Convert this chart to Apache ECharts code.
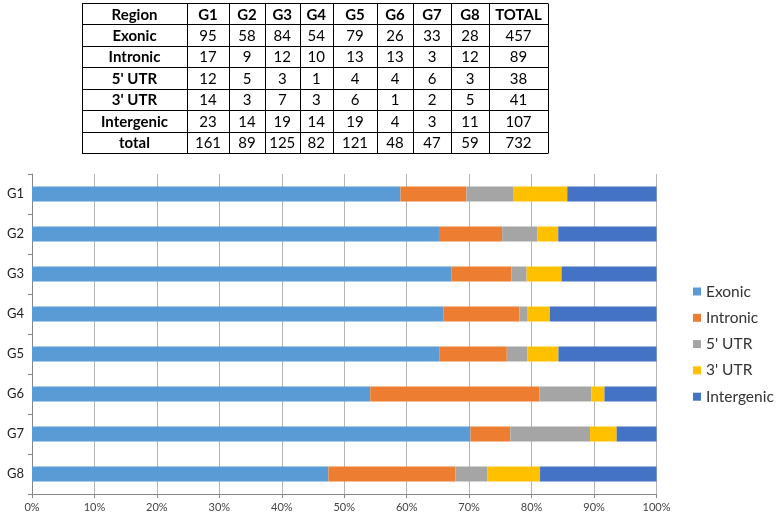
<!DOCTYPE html>
<html>
<head>
<meta charset="utf-8">
<script src="https://cdn.jsdelivr.net/npm/echarts@6/dist/echarts.min.js"></script>
<style>html,body{margin:0;padding:0;background:#fff}#c{width:777px;height:517px}</style>
</head>
<body>
<div id="c"></div>
<script>
const groups = ['G1','G2','G3','G4','G5','G6','G7','G8'];
const regionNames = ['Exonic','Intronic',"5' UTR","3' UTR",'Intergenic'];
const exonic = [95,58,84,54,79,26,33,28];
const intronic = [17,9,12,10,13,13,3,12];
const utr5 = [12,5,3,1,4,4,6,3];
const utr3 = [14,3,7,3,6,1,2,5];
const intergenic = [23,14,19,14,19,4,3,11];
const xTickValues = [0,10,20,30,40,50,60,70,80,90,100];
const colors = ['#5B9BD5','#ED7D31','#A5A5A5','#FFC000','#4472C4'];

const seriesCounts = [exonic, intronic, utr5, utr3, intergenic];
const groupTotals = groups.map((g,i)=>seriesCounts.reduce((s,a)=>s+a[i],0));

// ---- table (layout) ----
const colEdges = [82,187,229,265,299.5,333,377,413,451,489,548];
const tableTop = 3, rowH = 21.45;
const FONT = 'Lato, "Open Sans", sans-serif';
const tableRows = [];
tableRows.push({label:'Region', cells: groups.concat(['TOTAL']), header:true});
regionNames.forEach((n,r)=>{
  const arr = seriesCounts[r];
  tableRows.push({label:n, cells: arr.map(String).concat([String(arr.reduce((a,b)=>a+b,0))])});
});
tableRows.push({label:'total', cells: groupTotals.map(String).concat([String(groupTotals.reduce((a,b)=>a+b,0))])});

const graphics = [];
const tableBottom = tableTop + rowH*tableRows.length;
for (let r=0;r<=tableRows.length;r++){
  const y = Math.round(tableTop + rowH*r)+0.5;
  graphics.push({type:'line', shape:{x1:colEdges[0],y1:y,x2:colEdges[colEdges.length-1],y2:y}, style:{stroke:'#000',lineWidth:1}});
}
colEdges.forEach(x=>{
  const xx = Math.round(x)+0.5;
  graphics.push({type:'line', shape:{x1:xx,y1:Math.round(tableTop)+0.5,x2:xx,y2:Math.round(tableBottom)+0.5}, style:{stroke:'#000',lineWidth:1}});
});
tableRows.forEach((row,r)=>{
  const cy = tableTop + rowH*r + rowH/2 + 1;
  const all = [row.label].concat(row.cells);
  all.forEach((t,c)=>{
    const cx = (colEdges[c]+colEdges[c+1])/2;
    graphics.push({type:'text', x:cx, y:cy, style:{text:t, fill:'#000', font:(row.header||c===0?'bold ':'')+'15px '+FONT, align:'center', verticalAlign:'middle'}});
  });
});

const series = regionNames.map((n,k)=>({
  name:n, type:'bar', stack:'total', barWidth:15,
  itemStyle:{color:colors[k]},
  data: seriesCounts[k].map((v,i)=>v/groupTotals[i]*100)
}));

const chart = echarts.init(document.getElementById('c'), null, {renderer:'canvas'});
chart.setOption({
  animation:false,
  color: colors,
  grid:{left:32, top:174, width:624.5, height:320, containLabel:false},
  legend:{
    orient:'vertical', left:693, top:283.5, padding:0,
    itemWidth:8, itemHeight:8, itemGap:10.3,
    icon:'rect',
    textStyle:{fontFamily:FONT, fontSize:15.5, color:'#333', lineHeight:16},
    data: regionNames
  },
  xAxis:{
    type:'value', min:0, max:100, interval:10,
    axisLine:{show:true, lineStyle:{color:'#868686'}},
    axisTick:{show:true, length:4, lineStyle:{color:'#868686'}},
    splitLine:{show:true, lineStyle:{color:'#b5b5b5', width:1}},
    axisLabel:{formatter:v=> xTickValues.includes(v)? v+'%':'', fontFamily:FONT, fontSize:11, color:'#444', margin:8}
  },
  yAxis:{
    type:'category', data:groups, inverse:true,
    axisLine:{show:true, lineStyle:{color:'#868686'}},
    axisTick:{show:true, length:4, lineStyle:{color:'#868686'}},
    axisLabel:{fontFamily:FONT, fontSize:13, color:'#222', margin:8}
  },
  series: series,
  graphic: graphics
});
</script>
</body>
</html>
